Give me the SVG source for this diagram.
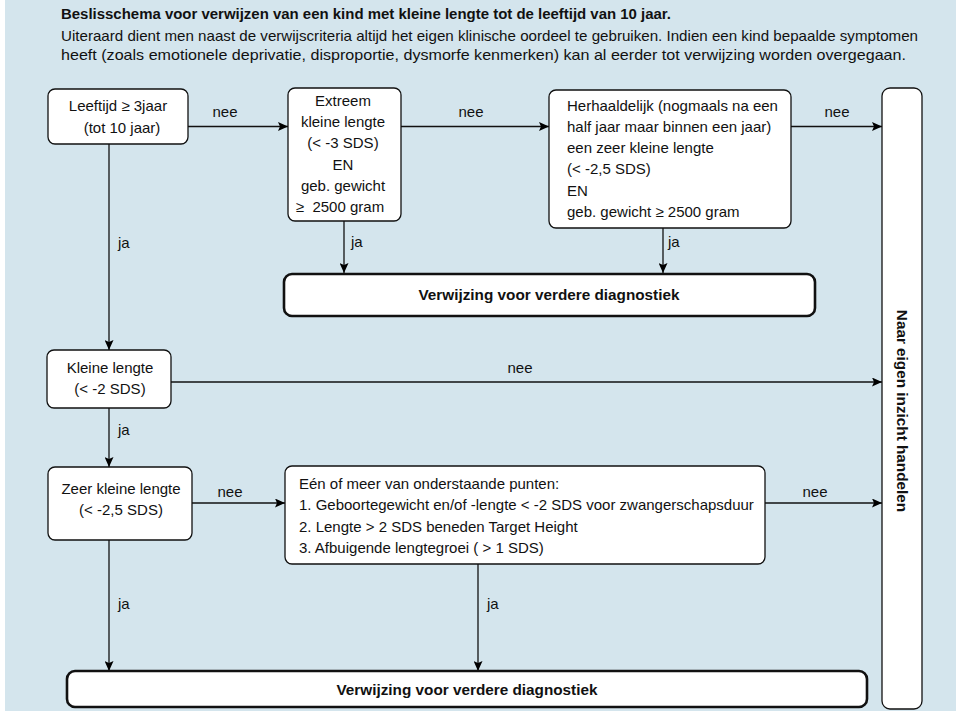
<svg xmlns="http://www.w3.org/2000/svg" width="956" height="713" viewBox="0 0 956 713">
<defs>
<marker id="arr" markerUnits="userSpaceOnUse" markerWidth="11" markerHeight="9" refX="10" refY="4.5" orient="auto">
<path d="M0,0 L10,4.5 L0,9 L2,4.5 z" fill="#000"/>
</marker>
<style>
.bg{fill:#d4e5ed}
.t{font-family:"Liberation Sans",Arial,sans-serif;font-size:15px;fill:#111}
.h{font-family:"Liberation Sans",Arial,sans-serif;font-size:14px;font-weight:bold;fill:#111}
.b{font-family:"Liberation Sans",Arial,sans-serif;font-size:15.3px;font-weight:bold;fill:#111}
.c{text-anchor:middle}
.n{fill:#fff;stroke:#111;stroke-width:1.3}
.big{fill:#fff;stroke:#111;stroke-width:2.6}
.e{fill:none;stroke:#111;stroke-width:1.3;marker-end:url(#arr)}
</style>
</defs>
<rect class="bg" x="5" y="0" width="951" height="711"/>
<g id="header">
<text class="h" x="61" y="19" textLength="610" lengthAdjust="spacingAndGlyphs">Beslisschema voor verwijzen van een kind met kleine lengte tot de leeftijd van 10 jaar.</text>
<text class="t" x="61" y="41" textLength="857" lengthAdjust="spacingAndGlyphs">Uiteraard dient men naast de verwijscriteria altijd het eigen klinische oordeel te gebruiken. Indien een kind bepaalde symptomen</text>
<text class="t" x="61" y="60" textLength="845" lengthAdjust="spacingAndGlyphs">heeft (zoals emotionele deprivatie, disproportie, dysmorfe kenmerken) kan al eerder tot verwijzing worden overgegaan.</text>
</g>
<g id="connectors">
<path class="e" d="M188,126.5 H288"/>
<path class="e" d="M401,126.5 H549"/>
<path class="e" d="M791,126.5 H882"/>
<path class="e" d="M344,221 V273"/>
<path class="e" d="M663,228 V273"/>
<path class="e" d="M109,144 V350"/>
<path class="e" d="M171,382 H882"/>
<path class="e" d="M109,408 V467"/>
<path class="e" d="M192,503 H285"/>
<path class="e" d="M765,503 H882"/>
<path class="e" d="M109,540 V671"/>
<path class="e" d="M478,564 V671"/>
<text class="t c" x="225" y="117">nee</text>
<text class="t c" x="471" y="117">nee</text>
<text class="t c" x="837" y="117">nee</text>
<text class="t" x="351" y="247">ja</text>
<text class="t" x="668" y="247">ja</text>
<text class="t" x="118" y="248">ja</text>
<text class="t c" x="520" y="373">nee</text>
<text class="t" x="118" y="435">ja</text>
<text class="t c" x="230" y="497">nee</text>
<text class="t c" x="815" y="497">nee</text>
<text class="t" x="118" y="609">ja</text>
<text class="t" x="487" y="609">ja</text>
</g>
<g id="leeftijd">
<rect class="n" x="48" y="89" width="140" height="55" rx="7"/>
<text class="t c" x="118" y="111">Leeftijd ≥ 3jaar</text>
<text class="t c" x="122" y="133">(tot 10 jaar)</text>
</g>
<g id="extreem">
<rect class="n" x="288" y="88" width="113" height="133" rx="7"/>
<text class="t c" x="343" y="106">Extreem</text>
<text class="t c" x="343" y="127">kleine lengte</text>
<text class="t c" x="343" y="148">(&lt; -3 SDS)</text>
<text class="t c" x="343" y="170">EN</text>
<text class="t c" x="343" y="191">geb. gewicht</text>
<text class="t c" x="340" y="212" xml:space="preserve">≥  2500 gram</text>
</g>
<g id="herhaaldelijk">
<rect class="n" x="549" y="90" width="242" height="138" rx="7"/>
<text class="t" x="567" y="111">Herhaaldelijk (nogmaals na een</text>
<text class="t" x="567" y="132">half jaar maar binnen een jaar)</text>
<text class="t" x="567" y="153">een zeer kleine lengte</text>
<text class="t" x="567" y="174">(&lt; -2,5 SDS)</text>
<text class="t" x="567" y="196">EN</text>
<text class="t" x="567" y="217">geb. gewicht ≥ 2500 gram</text>
</g>
<g id="verwijzing1">
<rect class="big" x="284" y="274" width="531" height="42" rx="8"/>
<text class="b c" x="549" y="300">Verwijzing voor verdere diagnostiek</text>
</g>
<g id="kleine">
<rect class="n" x="47" y="350" width="124" height="58" rx="7"/>
<text class="t c" x="110" y="373">Kleine lengte</text>
<text class="t c" x="110" y="394">(&lt; -2 SDS)</text>
</g>
<g id="zeerkleine">
<rect class="n" x="48" y="467" width="144" height="73" rx="7"/>
<text class="t c" x="121" y="494">Zeer kleine lengte</text>
<text class="t c" x="121" y="515">(&lt; -2,5 SDS)</text>
</g>
<g id="punten">
<rect class="n" x="285" y="466" width="480" height="98" rx="7"/>
<text class="t" x="299" y="489">Eén of meer van onderstaande punten:</text>
<text class="t" x="299" y="510">1. Geboortegewicht en/of -lengte &lt; -2 SDS voor zwangerschapsduur</text>
<text class="t" x="299" y="532">2. Lengte &gt; 2 SDS beneden Target Height</text>
<text class="t" x="299" y="553">3. Afbuigende lengtegroei ( &gt; 1 SDS)</text>
</g>
<g id="verwijzing2">
<rect class="big" x="67" y="671" width="800" height="36" rx="8"/>
<text class="b c" x="467" y="695">Verwijzing voor verdere diagnostiek</text>
</g>
<g id="eigeninzicht">
<rect class="n" x="882" y="88" width="40" height="621" rx="8"/>
<text class="b c" transform="translate(897,411) rotate(90)" x="0" y="0">Naar eigen inzicht handelen</text>
</g>
</svg>
